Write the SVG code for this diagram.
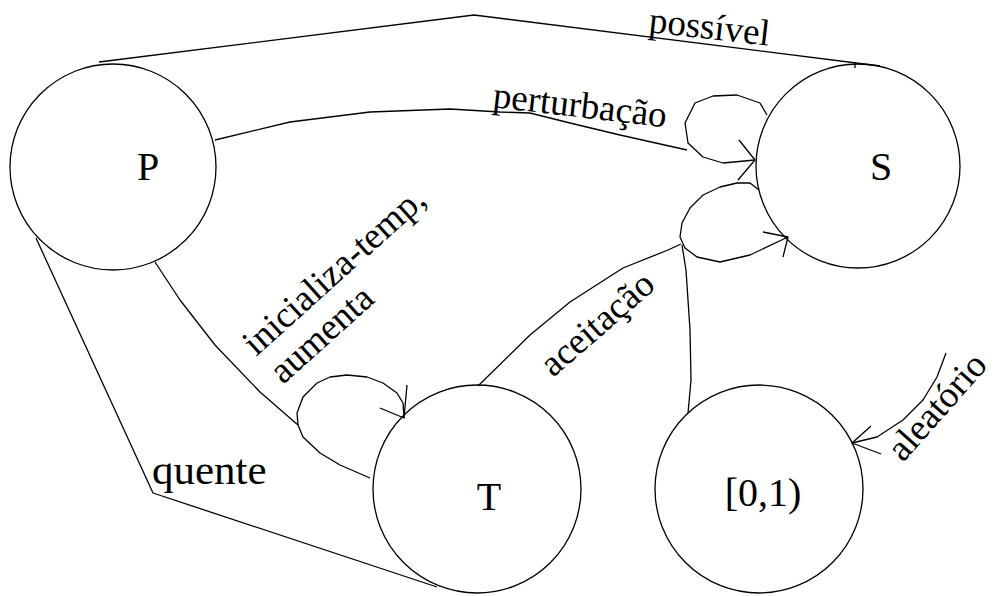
<svg xmlns="http://www.w3.org/2000/svg" width="997" height="596" viewBox="0 0 997 596">
  <style>
    .node circle { fill: none; stroke: #000; stroke-width: 1.3; }
    .edge { fill: none; stroke: #000; stroke-width: 1.3; stroke-linejoin: round; }
    text { font-family: "Liberation Serif", Tinos, "Times New Roman", "DejaVu Serif", serif; fill: #000; }
    .nlabel { font-size: 40px; text-anchor: middle; }
    .elabel { font-size: 37px; }
    .elabel.big { font-size: 43px; }
  </style>
  <rect width="997" height="596" fill="#fff"/>

  <g id="node-P" class="node">
    <circle cx="113" cy="167" r="103"/>
    <text class="nlabel" x="148" y="180">P</text>
  </g>
  <g id="node-S" class="node">
    <circle cx="858" cy="166" r="102"/>
    <text class="nlabel" x="881" y="180">S</text>
  </g>
  <g id="node-T" class="node">
    <circle cx="477" cy="489" r="104"/>
    <text class="nlabel" x="489" y="510">T</text>
  </g>
  <g id="node-rand" class="node">
    <circle cx="759" cy="489" r="104"/>
    <text class="nlabel" x="763" y="506">[0,1)</text>
  </g>

  <g id="connectors">
    <!-- P to S over the top -->
    <polyline class="edge" points="99,62 474,15 880,66"/>
    <line class="edge" x1="855" y1="63" x2="855" y2="68"/>
    <!-- P to S, perturbation -->
    <polyline class="edge" points="215,140 290,122 370,112 450,109 500,112 530,113 570,123 620,135 687,150"/>
    <!-- upper self loop on S -->
    <polyline class="edge" points="767,115 760,103 737,95 713,96 695,103 685,123 688,143 703,157 723,163 755,160"/>
    <polyline class="edge" points="739,140 755,160 738,180"/>
    <!-- lower loop on S -->
    <polyline class="edge" points="759,190 750,183 737,183 720,187 703,195 690,208 682,223 680,237 685,248 697,257 720,262 750,255 788,237"/>
    <polyline class="edge" points="763,232 788,237 783,257"/>
    <!-- T to S, acceptance -->
    <polyline class="edge" points="478,386 530,335 570,302 623,268 668,250 681,244"/>
    <!-- [0,1) up to the S loop -->
    <polyline class="edge" points="688,413 691,380 690,330 686,270 682,245"/>
    <!-- random input into [0,1) -->
    <polyline class="edge" points="946,353 937,377 923,400 903,420 877,437 852,443"/>
    <polyline class="edge" points="871,426 852,443 881,454"/>
    <!-- P to T -->
    <polyline class="edge" points="155,262 180,300 215,345 260,392 298,425 303,437 320,453 340,465 370,478"/>
    <!-- self loop on T -->
    <polyline class="edge" points="298,425 297,413 303,397 317,383 330,377 347,375 367,377 383,383 397,393 403,403 404,418"/>
    <polyline class="edge" points="407,385 404,418 380,408"/>
    <!-- P to T, hot -->
    <polyline class="edge" points="36,238 153,493 437,587"/>
  </g>

  <g id="labels">
    <text class="elabel" transform="translate(648,32) rotate(6.5)">possível</text>
    <text class="elabel" transform="translate(492,107) rotate(6.7)">perturbação</text>
    <text class="elabel" transform="translate(256,357) rotate(-42)">inicializa-temp,</text>
    <text class="elabel" transform="translate(283,385) rotate(-42)">aumenta</text>
    <text class="elabel" transform="translate(553,378) rotate(-41)">aceitação</text>
    <text class="elabel" transform="translate(903,463) rotate(-48.5)">aleatório</text>
    <text class="elabel big" x="152" y="484">quente</text>
  </g>
</svg>
